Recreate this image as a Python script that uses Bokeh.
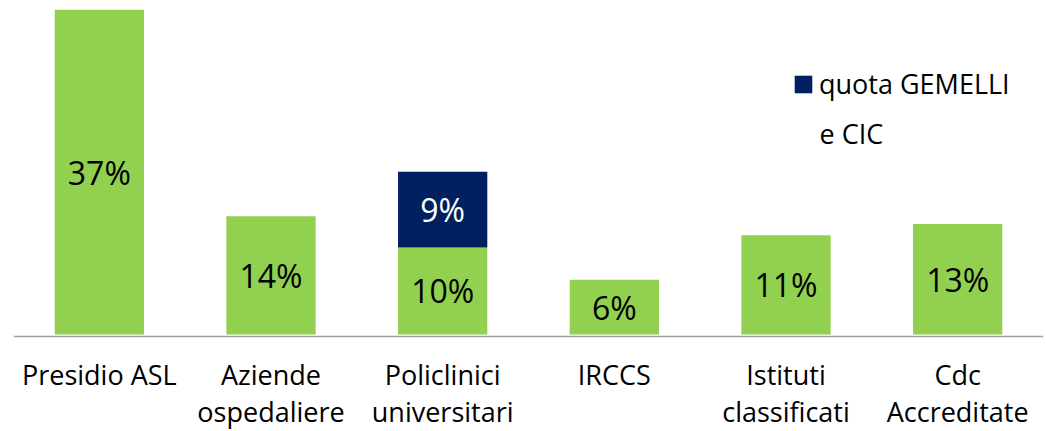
from bokeh.plotting import figure
from bokeh.models import ColumnDataSource, FactorRange, Range1d, Legend, LegendItem
from bokeh.embed import file_html
from bokeh.resources import INLINE
from bokeh.core.properties import value

categories = ["Presidio ASL", "Aziende\nospedaliere", "Policlinici\nuniversitari",
              "IRCCS", "Istituti\nclassificati", "Cdc\nAccreditate"]
base_values = [37.3, 13.6, 10.0, 6.3, 11.4, 12.7]
base_labels = ["37%", "14%", "10%", "6%", "11%", "13%"]
gemelli_values = [0, 0, 8.7, 0, 0, 0]
gemelli_labels = ["", "", "9%", "", "", ""]
legend_label = "quota GEMELLI"
legend_label2 = "e CIC"

GREEN = "#92D050"
NAVY = "#002060"
FONT = "Open Sans"

tops = [b + g for b, g in zip(base_values, gemelli_values)]
src = ColumnDataSource(dict(
    cat=categories,
    base=base_values,
    top=tops,
    base_mid=[b / 2 for b in base_values],
    gem_mid=[b + g / 2 for b, g in zip(base_values, gemelli_values)],
    base_lab=base_labels,
    gem_lab=gemelli_labels,
))

p = figure(x_range=FactorRange(*categories, range_padding=0),
           y_range=Range1d(-11.14, 38.37),
           width=1046, height=431, output_backend="svg", toolbar_location=None,
           min_border_left=13, min_border_right=3, min_border_top=0, min_border_bottom=0)
p.outline_line_color = None
p.xgrid.visible = False
p.ygrid.visible = False
p.yaxis.visible = False

p.vbar(x="cat", top="base", bottom=0, width=0.52, source=src,
       fill_color=GREEN, line_color=None)
r_gem = p.vbar(x="cat", top="top", bottom="base", width=0.52, source=src,
               fill_color=NAVY, line_color=None)

p.text(x="cat", y="base_mid", text="base_lab", source=src,
       text_font=value(FONT), text_font_size="32px", text_color="#000000",
       text_align="center", text_baseline="middle")
p.text(x="cat", y="gem_mid", text="gem_lab", source=src,
       text_font=value(FONT), text_font_size="32px", text_color="#FFFFFF",
       text_align="center", text_baseline="middle")

ax = p.xaxis[0]
ax.fixed_location = -0.2
ax.axis_line_color = "#A0A0A0"
ax.axis_line_width = 1.5
ax.major_tick_line_color = None
ax.minor_tick_line_color = None
ax.major_tick_out = 0
ax.major_tick_in = 0
ax.major_label_standoff = 20
ax.major_label_text_font = FONT
ax.major_label_text_font_size = "27px"
ax.major_label_text_line_height = 1.0
ax.major_label_text_color = "#000000"

legend = Legend(items=[LegendItem(label=legend_label, renderers=[r_gem])],
                location=(779, 329), orientation="vertical",
                label_text_font=FONT, label_text_font_size="27px",
                label_text_color="#000000",
                glyph_width=22, glyph_height=22, label_standoff=5,
                padding=0, margin=0, spacing=0,
                border_line_color=None, background_fill_alpha=0)
p.add_layout(legend, "center")

p.text(x=[4.695], y=[23.12], text=[legend_label2], text_font=value(FONT),
       text_font_size="27px", text_color="#000000",
       text_baseline="alphabetic", text_align="left")

open("out.html", "w").write(file_html(p, INLINE))
